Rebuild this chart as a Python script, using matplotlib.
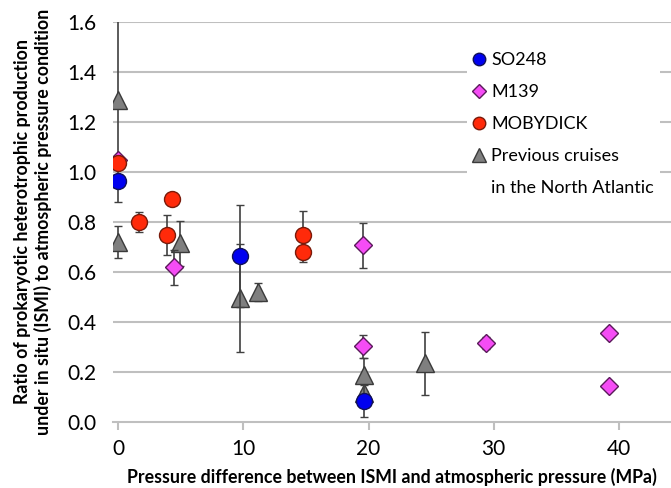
import matplotlib
matplotlib.use("Agg")
import matplotlib.pyplot as plt
from matplotlib.lines import Line2D

plt.rcParams['font.family'] = ['Lato', 'DejaVu Sans']

# SO248
so_x = [0.0, 9.7, 19.6]
so_y = [0.965, 0.665, 0.085]
so_e = [0.0, 0.205, 0.065]

# M139
m_x = [0.0, 4.45, 19.55, 19.55, 29.4, 39.2, 39.2]
m_y = [1.05, 0.62, 0.708, 0.303, 0.316, 0.356, 0.145]
m_e = [0.0, 0.07, 0.09, 0.046, 0.025, 0.0, 0.0]

# MOBYDICK
r_x = [0.0, 1.7, 3.9, 4.35, 14.75, 14.75]
r_y = [1.037, 0.80, 0.748, 0.892, 0.748, 0.68]
r_e = [0.0, 0.04, 0.08, 0.01, 0.095, 0.04]

# Previous cruises in the North Atlantic
p_x = [0.0, 0.0, 4.95, 9.75, 11.2, 19.6, 19.6, 24.5]
p_y = [1.29, 0.72, 0.716, 0.497, 0.52, 0.19, 0.115, 0.235]
p_e = [0.41, 0.065, 0.09, 0.215, 0.035, 0.065, 0.0, 0.125]

xticks = [0, 10, 20, 30, 40]
yticks = [0.0, 0.2, 0.4, 0.6, 0.8, 1.0, 1.2, 1.4, 1.6]

fig = plt.figure(figsize=(6.71, 4.88), dpi=100)
ax = fig.add_axes([113/671, 1-422/488, 1-113/671, 400/488])
ax.set_xlim(-0.4, 44.15)
ax.set_ylim(0, 1.6)

grid_c = '#BFBFBF'
for yv in yticks[1:]:
    ax.axhline(yv, color=grid_c, lw=1.5, zorder=0)

eb_kw = dict(ecolor='#404040', elinewidth=1.2, capsize=3, capthick=1.2, ls='none')
mk_edge = '#3a3a3a'

ax.errorbar(p_x, p_y, yerr=p_e, marker='^', ms=13, mfc='#7F7F7F', mec=mk_edge, mew=1.0, zorder=3, **eb_kw)
ax.errorbar(m_x, m_y, yerr=m_e, marker='D', ms=9.5, mfc='#F54CF5', mec='#5a1a5a', mew=1.0, zorder=4, **eb_kw)
ax.errorbar(r_x, r_y, yerr=r_e, marker='o', ms=11.5, mfc='#FF2A0A', mec='#7a1a0a', mew=1.0, zorder=5, **eb_kw)
ax.errorbar(so_x, so_y, yerr=so_e, marker='o', ms=11.5, mfc='#0000F0', mec='#10105a', mew=1.0, zorder=6, **eb_kw)

for s in ['left', 'right', 'top']:
    ax.spines[s].set_visible(False)
ax.spines['bottom'].set_color(grid_c)
ax.spines['bottom'].set_linewidth(1.5)
ax.set_xticks(xticks)
ax.set_yticks(yticks)
ax.set_yticklabels([f"{v:.1f}" for v in yticks])
ax.tick_params(axis='x', colors=grid_c, length=6, width=1.5, labelcolor='black', labelsize=15, pad=6)
ax.tick_params(axis='y', length=0, labelsize=15, pad=12)

ax.set_xlabel('Pressure difference between ISMI and atmospheric pressure (MPa)',
              fontsize=12.8, fontweight='bold', labelpad=7)
ax.set_ylabel('Ratio of prokaryotic heterotrophic production\nunder in situ (ISMI) to atmospheric pressure condition',
              fontsize=12.8, fontweight='bold', labelpad=11)

handles = [
    Line2D([], [], ls='none', marker='o', ms=9, mfc='#0000F0', mec='#10105a'),
    Line2D([], [], ls='none', marker='D', ms=7, mfc='#F54CF5', mec='#5a1a5a'),
    Line2D([], [], ls='none', marker='o', ms=9, mfc='#FF2A0A', mec='#7a1a0a'),
    Line2D([], [], ls='none', marker='^', ms=10, mfc='#7F7F7F', mec=mk_edge),
    Line2D([], [], ls='none'),
]
labels = ['SO248', 'M139', 'MOBYDICK', 'Previous cruises', 'in the North Atlantic']
leg = ax.legend(handles, labels, loc='upper left',
                frameon=True, fontsize=13, handlelength=0.7, handletextpad=0.35,
                labelspacing=0.88, borderpad=0.3)
leg.get_frame().set_facecolor('white')
leg.get_frame().set_edgecolor('none')
leg.get_frame().set_alpha(1)
leg.set_zorder(10)
leg.set_bbox_to_anchor((458/671, 1-38/488), transform=fig.transFigure)

fig.savefig('out.png', dpi=100)
